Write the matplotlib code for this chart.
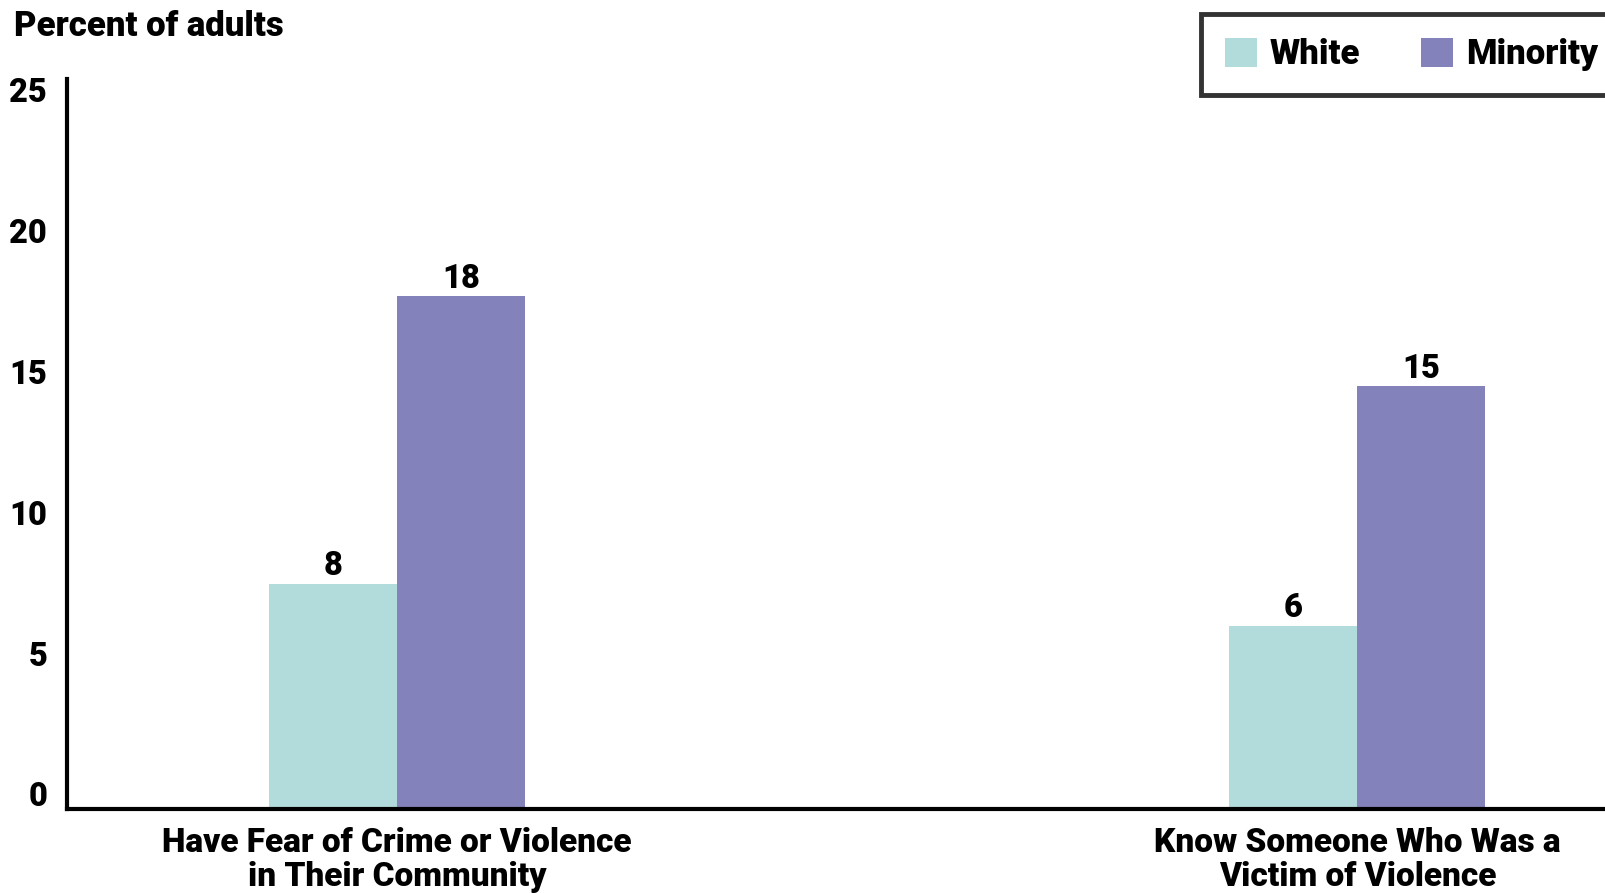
import matplotlib
matplotlib.use("Agg")
import matplotlib.pyplot as plt
import matplotlib.transforms as mtransforms
import numpy as np

categories = ["Have Fear of Crime or Violence\nin Their Community",
              "Know Someone Who Was a\nVictim of Violence"]
series_names = ["White", "Minority"]
white_vals = [8.0, 6.5]
minority_vals = [18.2, 15.0]
white_labels = ["8", "6"]
minority_labels = ["18", "15"]
yticks = [0, 5, 10, 15, 20, 25]

col_white = "#b2dcdb"
col_min = "#8482ba"
FONT = "Roboto"
W = "black"

W_PX, H_PX = 1606, 893
fig = plt.figure(figsize=(W_PX / 100, H_PX / 100), dpi=100)
ax = fig.add_axes([66.6 / W_PX, 1 - 809 / H_PX, 1 - 66.6 / W_PX, (809 - 79) / H_PX])

x = np.arange(len(categories))
bw = 0.1333
b1 = ax.bar(x - bw / 2, white_vals, bw, color=col_white, label=series_names[0])
b2 = ax.bar(x + bw / 2, minority_vals, bw, color=col_min, label=series_names[1])

for bars, labs in ((b1, white_labels), (b2, minority_labels)):
    for r, t in zip(bars, labs):
        ax.annotate(t, (r.get_x() + r.get_width() / 2, r.get_height()),
                    xytext=(0, 1.0), textcoords="offset points",
                    ha="center", va="bottom", fontsize=23.5,
                    family=FONT, weight=W)

ax.set_xlim(-0.344, 1.259)
ax.set_ylim(0, 25.9)
for s in ("top", "right"):
    ax.spines[s].set_visible(False)
for s in ("left", "bottom"):
    ax.spines[s].set_linewidth(3)
ax.set_yticks(yticks)
ax.set_yticklabels([str(v) for v in yticks], family=FONT, weight=W, fontsize=23.5)
ax.tick_params(axis="y", length=0, pad=14)
off = mtransforms.ScaledTranslation(0, 15 / 100, fig.dpi_scale_trans)
for lab in ax.get_yticklabels():
    lab.set_transform(lab.get_transform() + off)
ax.set_xticks(x)
ax.set_xticklabels(categories, family=FONT, weight=W, fontsize=24, linespacing=1.08)
ax.tick_params(axis="x", length=0, pad=13)

fig.text(14 / W_PX, 1 - 27 / H_PX, "Percent of adults", family=FONT, weight=W,
         fontsize=25, ha="left", va="center")

leg = ax.legend(loc="upper left", bbox_to_anchor=(1201 / W_PX, 1 - 14 / H_PX),
                bbox_transform=fig.transFigure, ncol=2, frameon=True,
                prop={"family": FONT, "weight": W, "size": 25},
                handlelength=0.93, handleheight=0.93, columnspacing=1.75,
                handletextpad=0.37, borderpad=0.68, borderaxespad=0,
                fancybox=False)
leg.get_frame().set_edgecolor("black")
leg.get_frame().set_linewidth(3.5)

fig.savefig("out.png", dpi=100)
